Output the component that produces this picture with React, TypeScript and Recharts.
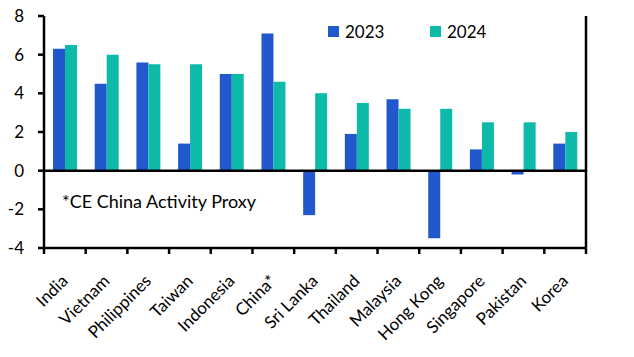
import React from 'react';
import { BarChart, Bar, XAxis, YAxis, ReferenceLine } from 'recharts';

const countries = ['India', 'Vietnam', 'Philippines', 'Taiwan', 'Indonesia', 'China*', 'Sri Lanka', 'Thailand', 'Malaysia', 'Hong Kong', 'Singapore', 'Pakistan', 'Korea'];
const values2023 = [6.3, 4.5, 5.6, 1.4, 5.0, 7.1, -2.3, 1.9, 3.7, -3.5, 1.1, -0.2, 1.4];
const values2024 = [6.5, 6.0, 5.5, 5.5, 5.0, 4.6, 4.0, 3.5, 3.2, 3.2, 2.5, 2.5, 2.0];
const yTicks = [-4, -2, 0, 2, 4, 6, 8];
const seriesNames = ['2023', '2024'];

const BLUE = '#2159CC';
const TEAL = '#0DB9A9';
const FONT = 'Lato, "Open Sans", sans-serif';

const data = countries.map((c, i) => ({ name: c, y2023: values2023[i], y2024: values2024[i] }));

const CategoryTick = (props: any) => {
  const { x, y, payload, index, visibleTicksCount, width } = props;
  const step = (width || 542) / (visibleTicksCount || countries.length);
  return (
    <g>
      {index === 0 && (
        <line x1={x - step / 2} x2={x - step / 2} y1={y} y2={y + 6} stroke="#000" strokeWidth={2.5} />
      )}
      <line x1={x + step / 2} x2={x + step / 2} y1={y} y2={y + 6} stroke="#000" strokeWidth={2.5} />
      <g transform={`translate(${x + 1},${y + 31})`}>
        <text transform="rotate(-45)" textAnchor="end" dominantBaseline="middle" fontSize={17} fontFamily={FONT} fill="#000">
          {payload.value}
        </text>
      </g>
    </g>
  );
};

export default function App() {
  const tickStyle = { fontSize: 17, fontFamily: FONT, fill: '#000' };
  return (
    <div style={{ position: 'absolute', left: 0, top: 0, width: 634, height: 357 }}>
      <BarChart
        width={634}
        height={357}
        data={data}
        margin={{ top: 16, right: 0, bottom: 0, left: 0 }}
        barSize={12}
        barGap={0}
      >
        <XAxis
          dataKey="name"
          xAxisId="cat"
          height={109}
          axisLine={{ stroke: '#000', strokeWidth: 2.5 }}
          tickLine={false}
          tickSize={0}
          tickMargin={0}
          interval={0}
          tick={<CategoryTick />}
        />
        <YAxis
          yAxisId="left"
          orientation="left"
          width={44}
          domain={[-4, 8]}
          ticks={yTicks}
          interval={0}
          axisLine={{ stroke: '#000', strokeWidth: 2.5 }}
          tickLine={{ stroke: '#000', strokeWidth: 2.5 }}
          tickSize={6}
          tickMargin={14}
          tick={tickStyle}
        />
        <YAxis
          yAxisId="right"
          orientation="right"
          width={48}
          domain={[-4, 8]}
          ticks={yTicks}
          interval={0}
          axisLine={{ stroke: '#000', strokeWidth: 2.5 }}
          tickLine={{ stroke: '#000', strokeWidth: 2.5 }}
          tickSize={6}
          tickMargin={12}
          tick={{ ...tickStyle, textAnchor: 'start' }}
        />
        <Bar dataKey="y2023" name={seriesNames[0]} xAxisId="cat" yAxisId="left" fill={BLUE} isAnimationActive={false} />
        <Bar dataKey="y2024" name={seriesNames[1]} xAxisId="cat" yAxisId="left" fill={TEAL} isAnimationActive={false} />
        <ReferenceLine y={0} xAxisId="cat" yAxisId="left" stroke="#000" strokeWidth={2.5} />
      </BarChart>
      <div
        style={{
          position: 'absolute',
          left: 328,
          top: 23,
          display: 'flex',
          fontFamily: FONT,
          fontSize: 17,
          lineHeight: '17px',
          color: '#000',
        }}
      >
        <div style={{ display: 'flex', alignItems: 'center', width: 102 }}>
          <span style={{ display: 'inline-block', width: 11, height: 11, background: BLUE, marginRight: 6 }} />
          <span>{seriesNames[0]}</span>
        </div>
        <div style={{ display: 'flex', alignItems: 'center' }}>
          <span style={{ display: 'inline-block', width: 11, height: 11, background: TEAL, marginRight: 6 }} />
          <span>{seriesNames[1]}</span>
        </div>
      </div>
      <div
        style={{
          position: 'absolute',
          left: 62,
          top: 192,
          fontFamily: FONT,
          fontSize: 18,
          lineHeight: '18px',
          color: '#000',
          whiteSpace: 'nowrap',
        }}
      >
        *CE China Activity Proxy
      </div>
    </div>
  );
}
